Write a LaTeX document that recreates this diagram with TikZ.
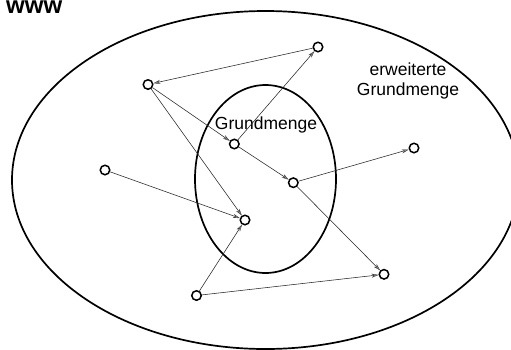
\documentclass[tikz,border=0pt]{standalone}
\usepackage{fontspec}
\setmainfont{Liberation Sans}
\usetikzlibrary{arrows.meta}
\begin{document}
\begin{tikzpicture}[x=1pt,y=-1pt,
  pt/.style={circle,draw=black,line width=1.5pt,fill=white,minimum size=9.5pt,inner sep=0pt},
  conn/.style={draw=black!85,line width=0.55pt,-{Stealth[length=7pt,width=4pt,color=black!75,fill=black!45,line width=0.4pt]}},
  set/.style={draw=black,line width=1.7pt},
  lbl/.style={font=\fontsize{17.5}{19.5}\selectfont,align=center,inner sep=0pt}]
\useasboundingbox (0,0) rectangle (511,349);
\fill[white] (0,0) rectangle (511,349);
\draw[set] (265.5,180) ellipse [x radius=253.5, y radius=169];
\draw[set] (265.5,179) ellipse [x radius=70.5, y radius=94];
\node[anchor=base west,inner sep=0pt,font=\bfseries\fontsize{24}{26}\selectfont] (www) at (6,13.5) {www};
\node[lbl] (gm) at (266,125) {Grundmenge};
\node[lbl] (egm) at (408,81) {erweiterte\\Grundmenge};
\node[pt] (A) at (318,47) {};
\node[pt] (B) at (148,84.5) {};
\node[pt] (C) at (234.3,144) {};
\node[pt] (D) at (293.3,182.7) {};
\node[pt] (E) at (414,148) {};
\node[pt] (F) at (105,170) {};
\node[pt] (G) at (245,220) {};
\node[pt] (H) at (384,274.3) {};
\node[pt] (I) at (196.5,295.5) {};
\draw[conn] (A) -- (B);
\draw[conn] (B) -- (C);
\draw[conn] (C) -- (A);
\draw[conn] (B) -- (G);
\draw[conn] (F) -- (G);
\draw[conn] (C) -- (D);
\draw[conn] (D) -- (E);
\draw[conn] (D) -- (H);
\draw[conn] (I) -- (G);
\draw[conn] (I) -- (H);
\end{tikzpicture}
\end{document}
